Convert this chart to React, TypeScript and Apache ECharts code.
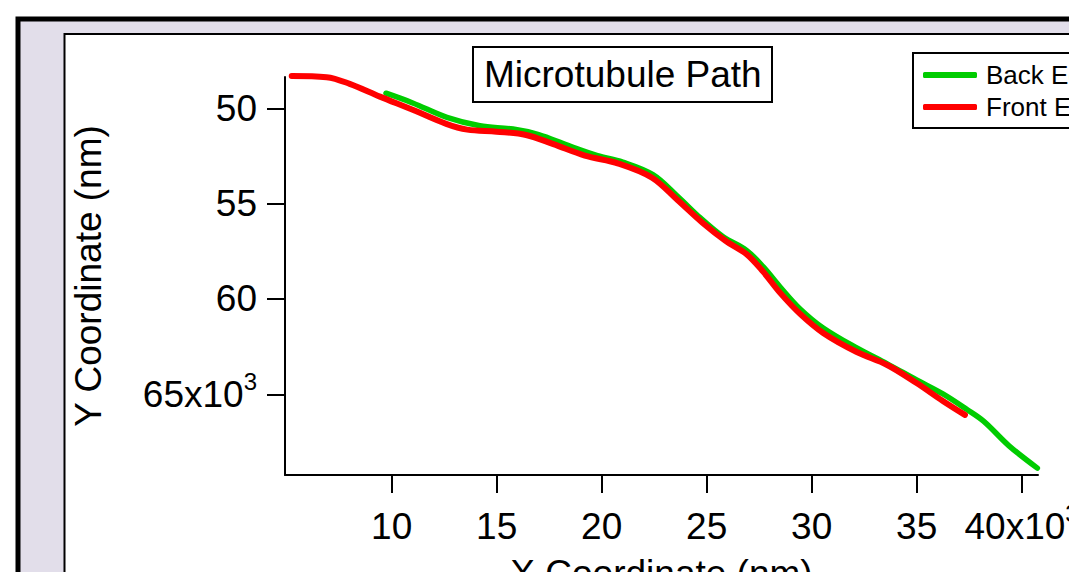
import React, { useEffect, useRef } from 'react';
import * as echarts from 'echarts';

// Back Edge (green) path, nm
const backX = [9730, 11000, 12630, 14200, 15780, 17000, 18400, 19800, 21000, 22440, 23600, 24700, 25800, 26900, 27700, 28500, 29450, 30550, 32150, 33600, 35000, 36250, 37400, 38200, 39400, 40750];
const backY = [49210, 49720, 50480, 50920, 51090, 51380, 51950, 52480, 52820, 53480, 54600, 55750, 56750, 57450, 58320, 59370, 60520, 61520, 62570, 63400, 64250, 64980, 65800, 66420, 67700, 68870];

// Front Edge (red) path, nm
const frontX = [5240, 6900, 8000, 9440, 11000, 12600, 13600, 15000, 16400, 17700, 19200, 20800, 22400, 23600, 24800, 25900, 26900, 27700, 28500, 29450, 30550, 32150, 33600, 35000, 36250, 37300];
const frontY = [48310, 48370, 48720, 49390, 50080, 50820, 51120, 51230, 51400, 51880, 52480, 52900, 53640, 54800, 56000, 56950, 57650, 58580, 59680, 60780, 61780, 62780, 63460, 64410, 65350, 66080];

const xTicks = [10000, 15000, 20000, 25000, 30000, 35000, 40000];
const yTicks = [50000, 55000, 60000, 65000];

const FONT = '"Liberation Sans", Arial, sans-serif';

export default function App() {
  const ref = useRef<HTMLDivElement>(null);
  useEffect(() => {
    if (!ref.current) return;
    const chart = echarts.init(ref.current, null, { renderer: 'svg' });
    const rich = {
      a: { fontSize: 37, fontFamily: FONT, color: '#000', lineHeight: 50 },
      s: { fontSize: 24, fontFamily: FONT, color: '#000', lineHeight: 24, verticalAlign: 'top' },
    };
    const fmt = (last: number) => (v: number) =>
      v === last ? `{a|${v / 1000}x10}{s|3}` : `{a|${v / 1000}}`;
    const axisCommon = {
      axisLine: { show: true, lineStyle: { color: '#000', width: 2 } },
      axisTick: { show: true, inside: false, length: 18, lineStyle: { color: '#000', width: 2 } },
      splitLine: { show: false },
      nameTextStyle: { fontSize: 37, fontFamily: FONT, color: '#000' },
    };
    chart.setOption({
      animation: false,
      backgroundColor: '#fff',
      textStyle: { fontFamily: FONT },
      graphic: [
        {
          type: 'rect', z: -10,
          shape: { x: 18, y: 19, width: 1200, height: 700 },
          style: { fill: '#e2deea', stroke: '#000', lineWidth: 5 },
        },
        {
          type: 'rect', z: -9,
          shape: { x: 64.5, y: 34, width: 1100, height: 700 },
          style: { fill: '#fff', stroke: '#000', lineWidth: 2 },
        },
      ],
      title: {
        text: 'Microtubule Path',
        left: 473, top: 47,
        padding: [9, 11],
        borderWidth: 2, borderColor: '#000', backgroundColor: '#fff',
        textStyle: { fontSize: 37, fontWeight: 'normal', fontFamily: FONT, color: '#000' },
      },
      legend: {
        orient: 'vertical',
        left: 913, top: 53,
        padding: [9, 10, 8, 10],
        borderWidth: 2, borderColor: '#000', backgroundColor: '#fff',
        itemWidth: 54, itemHeight: 6, itemGap: 6,
        icon: 'roundRect',
        textStyle: { fontSize: 26, fontFamily: FONT, color: '#000', padding: [0, 0, 0, 4] },
        data: ['Back Edge', 'Front Edge'],
      },
      grid: { left: 285, top: 77, width: 753, height: 398, containLabel: false, outerBoundsMode: 'none' },
      xAxis: {
        type: 'value', min: 4920, max: 40780,
        name: 'X Coordinate (nm)', nameLocation: 'middle', nameGap: 80,
        ...axisCommon,
        axisTick: { ...axisCommon.axisTick, customValues: xTicks },
        axisLabel: { customValues: xTicks, formatter: fmt(40000), rich, margin: 26 },
      },
      yAxis: {
        type: 'value', min: 48360, max: 69230, inverse: true,
        name: 'Y Coordinate (nm)', nameLocation: 'middle', nameGap: 178, nameRotate: 90,
        ...axisCommon,
        axisTick: { ...axisCommon.axisTick, customValues: yTicks },
        axisLabel: { customValues: yTicks, formatter: fmt(65000), rich, margin: 28 },
      },
      series: [
        {
          name: 'Back Edge', type: 'line', smooth: 0.35, showSymbol: false, clip: false,
          color: '#00cc00',
          lineStyle: { width: 5.5, color: '#00cc00', cap: 'round', join: 'round' },
          data: backX.map((x, i) => [x, backY[i]]),
        },
        {
          name: 'Front Edge', type: 'line', smooth: 0.35, showSymbol: false, clip: false,
          color: '#ff0000',
          lineStyle: { width: 6, color: '#ff0000', cap: 'round', join: 'round' },
          data: frontX.map((x, i) => [x, frontY[i]]),
        },
      ],
    });
    return () => chart.dispose();
  }, []);
  return (
    <div
      ref={ref}
      style={{ position: 'absolute', left: 0, top: 0, width: 1069, height: 572 }}
    />
  );
}
